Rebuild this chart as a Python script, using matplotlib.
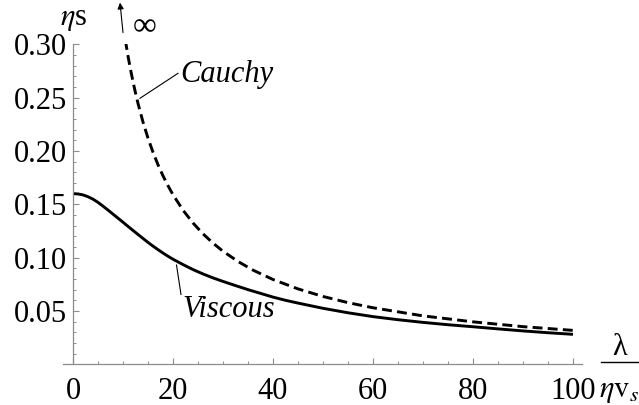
import matplotlib
matplotlib.use("Agg")
import matplotlib.pyplot as plt
from matplotlib.ticker import MultipleLocator, FixedLocator
from matplotlib.lines import Line2D

plt.rcParams['font.family'] = ['Liberation Serif', 'DejaVu Serif']
plt.rcParams['mathtext.fontset'] = 'stix'

# --- data ---
lam_v = [0, 1, 2, 3, 4, 5, 6, 7, 8, 9, 10, 11, 12, 13, 14, 15, 16, 17, 18, 19, 20,
         22, 24, 26, 28, 30, 32.5, 35, 37.5, 40, 42.5, 45, 50, 55, 60, 65, 70, 75, 80,
         85, 90, 95, 100]
viscous = [0.1600, 0.1597, 0.1588, 0.1571, 0.1548, 0.1518, 0.1483, 0.1446, 0.1408, 0.1370,
           0.1332, 0.1293, 0.1255, 0.1217, 0.1180, 0.1143, 0.1108, 0.1075, 0.1043, 0.1013,
           0.0985, 0.0935, 0.0888, 0.0847, 0.0810, 0.0777, 0.0738, 0.0700, 0.0665, 0.0630,
           0.0600, 0.0574, 0.0525, 0.0483, 0.0447, 0.0418, 0.0393, 0.0371, 0.0352, 0.0332,
           0.0313, 0.0296, 0.0281]

lam_c = [10, 10.5, 11, 11.5, 12, 12.5, 13, 14, 15, 16, 17, 18, 19, 20, 22, 24, 26, 28, 30,
         33, 36, 40, 45, 50, 55, 60, 70, 80, 90, 100]
cauchy = [0.318, 0.303, 0.289, 0.2765, 0.265, 0.2544, 0.2446, 0.2271, 0.212, 0.1988, 0.1871,
          0.1767, 0.1674, 0.159, 0.1445, 0.1325, 0.1223, 0.1136, 0.106, 0.0964, 0.0883,
          0.0795, 0.0707, 0.0636, 0.0578, 0.053, 0.0454, 0.0398, 0.0353, 0.0318]

x_ticks = [0, 20, 40, 60, 80, 100]
y_ticks = [0.05, 0.10, 0.15, 0.20, 0.25, 0.30]
y_ticklabels = ['0.05', '0.10', '0.15', '0.20', '0.25', '0.30']

W, H = 639, 405
fig = plt.figure(figsize=(W / 100, H / 100), dpi=100)
ax = fig.add_axes([63 / W, (H - 364.3) / H, 518.7 / W, 320 / H])
ax.set_xlim(-2, 101.74)
ax.set_ylim(0, 0.30)

gray = '#8c8c8c'
for s in ['top', 'right']:
    ax.spines[s].set_visible(False)
ax.spines['left'].set_position(('data', 0))
for s in ['left', 'bottom']:
    ax.spines[s].set_color(gray)
    ax.spines[s].set_linewidth(0.9)

FS = 22
ax.xaxis.set_major_locator(FixedLocator(x_ticks))
ax.xaxis.set_minor_locator(MultipleLocator(5))
ax.yaxis.set_major_locator(FixedLocator(y_ticks))
ax.set_yticklabels(y_ticklabels)
ax.yaxis.set_minor_locator(MultipleLocator(0.01))
ax.tick_params(which='major', direction='in', length=4, width=0.8, color=gray,
               labelsize=FS, labelcolor='black')
ax.tick_params(which='minor', direction='in', length=2.3, width=0.7, color=gray)
ax.tick_params(axis='y', which='major', pad=4)
ax.tick_params(axis='x', which='major', pad=9)

ax.plot(lam_v, viscous, color='black', lw=2.1, solid_capstyle='butt', solid_joinstyle='round')
ax.plot(lam_c, cauchy, color='black', lw=2.1, dashes=(3.4, 1.8))

# arrow to infinity
ax.annotate('', xy=(9.4, 0.339), xytext=(10.0, 0.311), xycoords='data',
            arrowprops=dict(arrowstyle='-|>', lw=0.8, color='black', mutation_scale=9,
                            shrinkA=0, shrinkB=0), annotation_clip=False)
ax.text(14.4, 0.316, '∞', fontsize=24, ha='center', va='center', clip_on=False)

# Cauchy label
ax.plot([21.0, 13.4], [0.2728, 0.2494], color='black', lw=0.8)
ax.text(21.4, 0.2647, 'Cauchy', fontsize=FS, style='italic', ha='left', va='baseline')

# Viscous label
ax.plot([20.7, 21.6], [0.0931, 0.0655], color='black', lw=0.8)
ax.text(21.8, 0.0443, 'Viscous', fontsize=FS, style='italic', ha='left', va='baseline')

# y axis label
fig.text(60 / W, 1 - 25 / H, r'$\eta$s', fontsize=FS, ha='left', va='baseline')

# x axis label as fraction
fig.text(620 / W, 1 - 355 / H, 'λ', fontsize=FS, ha='center', va='baseline')
fig.add_artist(Line2D([601 / W, 638 / W], [1 - 361.7 / H, 1 - 361.7 / H],
                      color='black', lw=1.0, transform=fig.transFigure))
fig.text(619 / W, 1 - 397 / H, r'$\eta\mathrm{v}_s$', fontsize=FS, ha='center', va='baseline')

fig.savefig('out.png', dpi=100)
